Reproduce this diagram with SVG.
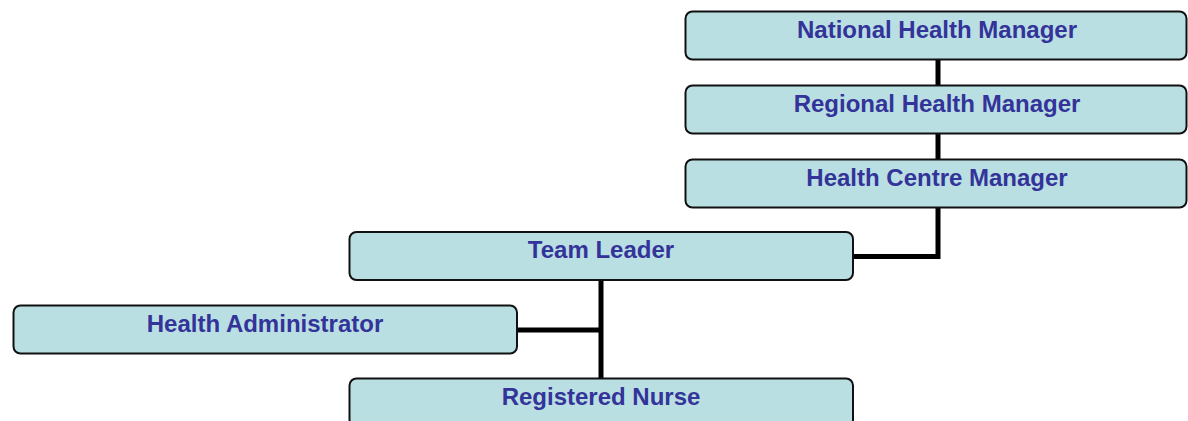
<svg xmlns="http://www.w3.org/2000/svg" width="1188" height="421" viewBox="0 0 1188 421">
<style>
.box{fill:#B9DFE2;stroke:#111;stroke-width:2}
.lbl{font-family:"Liberation Sans",Arial,sans-serif;font-weight:bold;font-size:24px;fill:#333399;text-anchor:middle}
.conn{fill:none;stroke:#000;stroke-width:5}
</style>
<rect width="1188" height="421" fill="#fff"/>
<g id="connectors">
<line class="conn" x1="938" y1="59" x2="938" y2="86"/>
<line class="conn" x1="938" y1="133" x2="938" y2="160"/>
<polyline class="conn" points="938,207 938,256.5 853,256.5"/>
<line class="conn" x1="601" y1="280" x2="601" y2="379"/>
<line class="conn" x1="517" y1="330" x2="601" y2="330"/>
</g>
<g id="national">
<rect class="box" x="685.5" y="11.5" width="501" height="48" rx="7"/>
<text class="lbl" x="937" y="37.7">National Health Manager</text>
</g>
<g id="regional">
<rect class="box" x="685.5" y="85.5" width="501" height="48" rx="7"/>
<text class="lbl" x="937" y="111.5">Regional Health Manager</text>
</g>
<g id="centre">
<rect class="box" x="685.5" y="159.5" width="501" height="48" rx="7"/>
<text class="lbl" x="937" y="185.5">Health Centre Manager</text>
</g>
<g id="teamleader">
<rect class="box" x="349.5" y="232" width="503.5" height="48" rx="7"/>
<text class="lbl" x="601" y="258">Team Leader</text>
</g>
<g id="admin">
<rect class="box" x="13.5" y="305.5" width="503.5" height="48" rx="7"/>
<text class="lbl" x="265" y="331.5">Health Administrator</text>
</g>
<g id="nurse">
<rect class="box" x="349.5" y="378.5" width="503.5" height="48" rx="7"/>
<text class="lbl" x="601" y="404.5">Registered Nurse</text>
</g>
</svg>
